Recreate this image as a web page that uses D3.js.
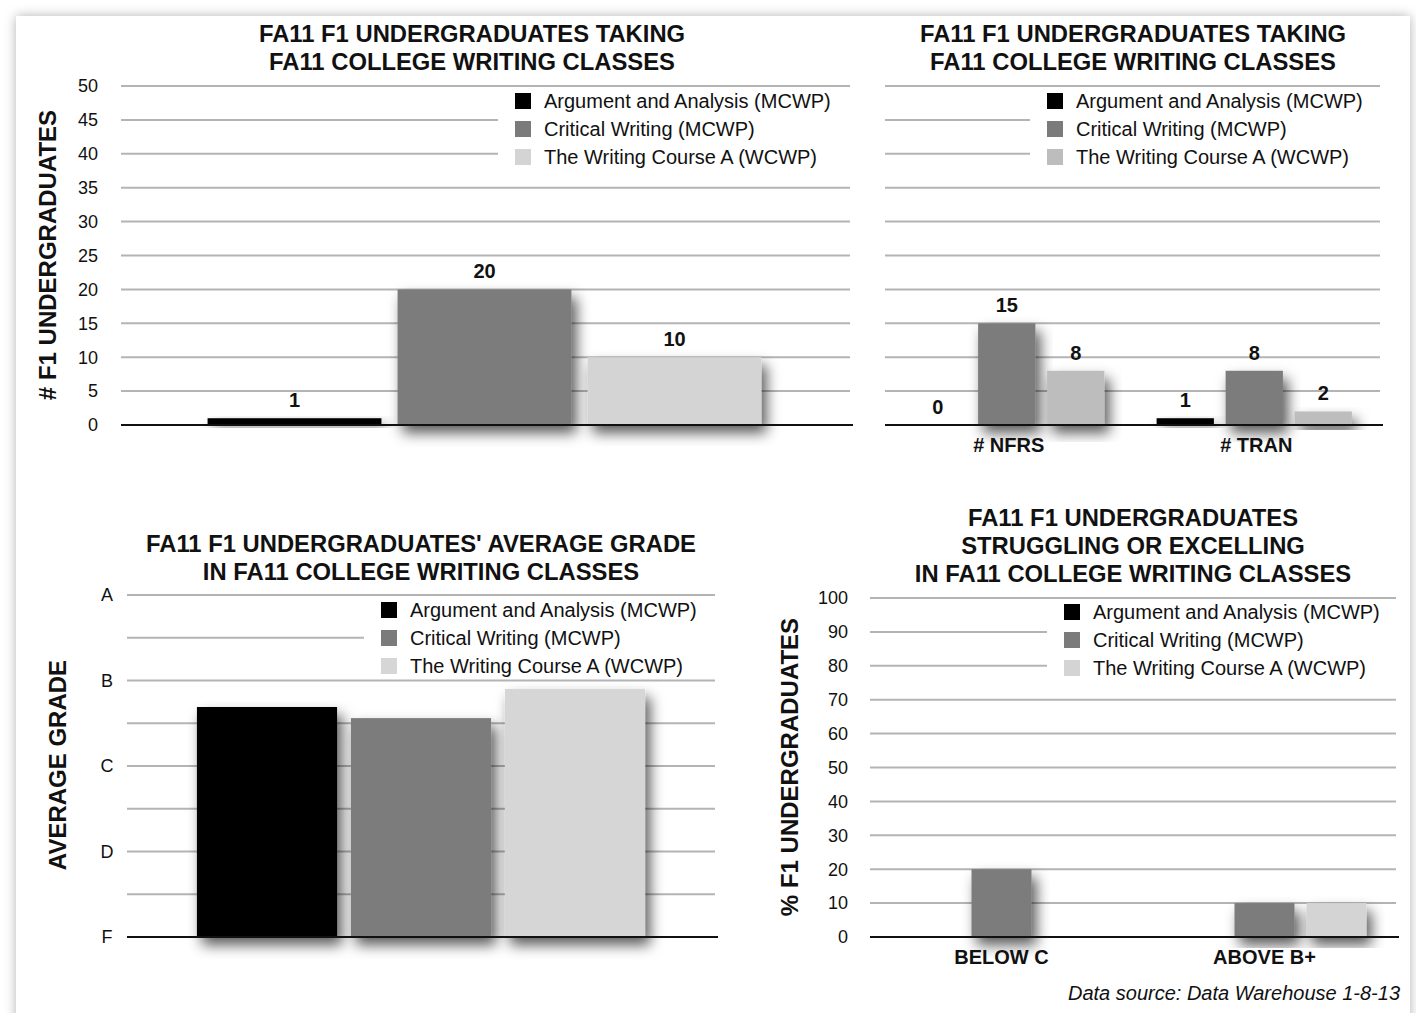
<!DOCTYPE html>
<html><head><meta charset="utf-8">
<script src="https://cdn.jsdelivr.net/npm/d3@7"></script>
<style>
html,body{margin:0;padding:0;background:#fff;}
svg{display:block;font-family:Arial,"Liberation Sans",Helvetica,sans-serif;}
</style></head>
<body>
<svg id="c" width="1416" height="1013"></svg>
<script>
// ---- data ----
const seriesNames = ["Argument and Analysis (MCWP)", "Critical Writing (MCWP)", "The Writing Course A (WCWP)"];

const chart1Categories = [""];
const chart1Values = [[1, 20, 10]];

const chart2Categories = ["# NFRS", "# TRAN"];
const chart2Values = [[0, 15, 8], [1, 8, 2]];

const countTicks = [0, 5, 10, 15, 20, 25, 30, 35, 40, 45, 50];

const chart3Categories = [""];
const chart3Values = [[2.69, 2.56, 2.90]];
const gradeTickLabels = ["F", "D", "C", "B", "A"];
const gradeGrid = [0, 0.5, 1, 1.5, 2, 2.5, 3, 3.5, 4];

const chart4Categories = ["BELOW C", "ABOVE B+"];
const chart4Values = [[0, 20, 0], [0, 10, 10]];
const pctTicks = [0, 10, 20, 30, 40, 50, 60, 70, 80, 90, 100];

const title1 = ["FA11 F1 UNDERGRADUATES TAKING", "FA11 COLLEGE WRITING CLASSES"];
const title3 = ["FA11 F1 UNDERGRADUATES' AVERAGE GRADE", "IN FA11 COLLEGE WRITING CLASSES"];
const title4 = ["FA11 F1 UNDERGRADUATES", "STRUGGLING OR EXCELLING", "IN FA11 COLLEGE WRITING CLASSES"];

// ---- drawing ----
const svg = d3.select("#c");
const defs = svg.append("defs");
const sh = defs.append("filter").attr("id", "barShadow").attr("x", "-30%").attr("y", "-30%").attr("width", "160%").attr("height", "160%");
sh.append("feDropShadow").attr("dx", 5).attr("dy", 8).attr("stdDeviation", 7).attr("flood-color", "#000").attr("flood-opacity", 0.65);
const ps = defs.append("filter").attr("id", "pageShadow").attr("x", "-5%").attr("y", "-5%").attr("width", "110%").attr("height", "110%");
ps.append("feDropShadow").attr("dx", 0).attr("dy", 0).attr("stdDeviation", 6).attr("flood-color", "#000").attr("flood-opacity", 0.3);

svg.append("rect").attr("x", 16).attr("y", 16).attr("width", 1394).attr("height", 1010)
  .attr("fill", "#fff").attr("filter", "url(#pageShadow)");

function drawChart(cfg) {
  const g = svg.append("g");
  const y = d3.scaleLinear().domain(cfg.domain).range([cfg.y0, cfg.y1]);
  // grid
  g.selectAll("line.grid").data(cfg.grid).join("line")
    .attr("x1", cfg.x0).attr("x2", cfg.x1)
    .attr("y1", d => y(d)).attr("y2", d => y(d))
    .attr("stroke", "#b4b4b4").attr("stroke-width", 2);
  // legend box (white, covering grid)
  const lg = g.append("g");
  lg.append("rect").attr("x", cfg.legX).attr("y", cfg.legY).attr("width", cfg.legW).attr("height", cfg.legH).attr("fill", "#fff");
  seriesNames.forEach((s, i) => {
    lg.append("rect").attr("x", cfg.legX + 17).attr("y", cfg.legY + 12 + i * 28 - 8).attr("width", 16).attr("height", 16).attr("fill", cfg.colors[i]);
    lg.append("text").attr("x", cfg.legX + 46).attr("y", cfg.legY + 12 + i * 28).attr("dy", "0.35em")
      .attr("font-size", 20).attr("fill", "#111").text(s);
  });
  // y tick labels
  if (cfg.tickLabels) {
    g.selectAll("text.tick").data(cfg.ticks).join("text")
      .attr("x", cfg.tickX).attr("y", d => y(d)).attr("dy", "0.35em")
      .attr("text-anchor", cfg.tickAnchor).attr("font-size", 18).attr("fill", "#111")
      .text((d, i) => cfg.tickLabels[i]);
  }
  // bars
  const xc = d3.scaleBand().domain(cfg.categories).range([cfg.x0, cfg.x1]);
  cfg.categories.forEach((c, ci) => {
    const center = xc(c) + xc.bandwidth() / 2 + (cfg.shift || 0);
    const xs = d3.scaleBand().domain(seriesNames)
      .range([center - 1.5 * cfg.step, center + 1.5 * cfg.step]).paddingInner(cfg.pad).paddingOuter(cfg.pad / 2);
    const vals = cfg.values[ci];
    const bg = g.append("g");
    bg.selectAll("rect").data(vals).join("rect")
      .attr("x", (d, i) => xs(seriesNames[i])).attr("width", xs.bandwidth())
      .attr("y", d => y(d)).attr("height", d => y(0) - y(d))
      .attr("fill", (d, i) => cfg.colors[i])
      .attr("filter", d => d > 0 ? "url(#barShadow)" : null);
    if (cfg.valueLabels) {
      bg.selectAll("text").data(vals).join("text")
        .attr("x", (d, i) => xs(seriesNames[i]) + xs.bandwidth() / 2)
        .attr("y", d => y(d) - 11)
        .attr("text-anchor", "middle").attr("font-size", 20).attr("font-weight", "bold").attr("fill", "#111")
        .text(d => d);
    }
    if (c) {
      g.append("text").attr("x", xc(c) + xc.bandwidth() / 2).attr("y", cfg.catY)
        .attr("text-anchor", "middle").attr("font-size", 20).attr("font-weight", "bold").attr("fill", "#111").text(c);
    }
  });
  // baseline
  g.append("line").attr("x1", cfg.x0).attr("x2", cfg.x1 + 3).attr("y1", y(cfg.domain[0])).attr("y2", y(cfg.domain[0]))
    .attr("stroke", "#111").attr("stroke-width", 2);
  // title
  cfg.title.forEach((t, i) => {
    g.append("text").attr("x", cfg.titleX).attr("y", cfg.titleY + i * 28).attr("dy", "0.35em")
      .attr("text-anchor", "middle").attr("font-size", 23.8).attr("font-weight", "bold").attr("fill", "#111").text(t);
  });
  // y axis title
  if (cfg.yTitle) {
    g.append("text").attr("transform", `translate(${cfg.yTitleX},${cfg.yTitleY}) rotate(-90)`).attr("dy", "0.35em")
      .attr("text-anchor", "middle").attr("font-size", 24).attr("font-weight", "bold").attr("fill", "#111").text(cfg.yTitle);
  }
}

drawChart({
  domain: [0, 50], y0: 425, y1: 86, x0: 121, x1: 850,
  grid: countTicks, ticks: countTicks, tickLabels: countTicks.map(String), tickX: 98, tickAnchor: "end",
  categories: chart1Categories, values: chart1Values, step: 190, pad: 0.085, shift: -1,
  colors: ["#000", "#7b7b7b", "#d4d4d4"], valueLabels: true,
  legX: 498, legY: 89, legW: 352, legH: 82,
  title: title1, titleX: 472, titleY: 34,
  yTitle: "# F1 UNDERGRADUATES", yTitleX: 48, yTitleY: 255
});

drawChart({
  domain: [0, 50], y0: 425, y1: 86, x0: 885, x1: 1380,
  grid: countTicks, ticks: countTicks, tickLabels: null,
  categories: chart2Categories, values: chart2Values, step: 69, pad: 0.17, shift: -2, catY: 452,
  colors: ["#000", "#7b7b7b", "#bdbdbd"], valueLabels: true,
  legX: 1030, legY: 89, legW: 350, legH: 82,
  title: title1, titleX: 1133, titleY: 34
});

drawChart({
  domain: [0, 4], y0: 937, y1: 595, x0: 127, x1: 715,
  grid: gradeGrid, ticks: [0, 1, 2, 3, 4], tickLabels: gradeTickLabels, tickX: 107, tickAnchor: "middle",
  categories: chart3Categories, values: chart3Values, step: 154, pad: 0.09,
  colors: ["#000", "#7b7b7b", "#d6d6d6"], valueLabels: false,
  legX: 364, legY: 598, legW: 351, legH: 80,
  title: title3, titleX: 421, titleY: 544,
  yTitle: "AVERAGE GRADE", yTitleX: 58, yTitleY: 765
});

drawChart({
  domain: [0, 100], y0: 937, y1: 598, x0: 870, x1: 1396,
  grid: pctTicks, ticks: pctTicks, tickLabels: pctTicks.map(String), tickX: 848, tickAnchor: "end",
  categories: chart4Categories, values: chart4Values, step: 72, pad: 0.167, catY: 964,
  colors: ["#000", "#7b7b7b", "#d4d4d4"], valueLabels: false,
  legX: 1047, legY: 600, legW: 349, legH: 82,
  title: title4, titleX: 1133, titleY: 518,
  yTitle: "% F1 UNDERGRADUATES", yTitleX: 790, yTitleY: 767
});

svg.append("text").attr("x", 1400).attr("y", 993).attr("dy", "0.35em").attr("text-anchor", "end")
  .attr("font-size", 20).attr("font-style", "italic").attr("fill", "#111").text("Data source: Data Warehouse 1-8-13");
</script>
</body></html>
